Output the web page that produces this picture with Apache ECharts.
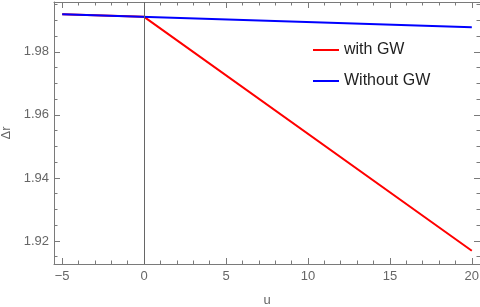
<!DOCTYPE html>
<html>
<head>
<meta charset="utf-8">
<script src="https://cdn.jsdelivr.net/npm/echarts@6/dist/echarts.min.js"></script>
<style>html,body{margin:0;padding:0;background:#fff}#c{width:480px;height:307px}</style>
</head>
<body>
<div id="c"></div>
<script>
// Data
const withGWu = [-5, 0, 20];
const withGW = [1.9919, 1.9911, 1.9169];
const withoutGWu = [-5, 20];
const withoutGW = [1.9919, 1.9878];
const seriesNames = ['with GW', 'Without GW'];
const xMajorTicks = [-5, 0, 5, 10, 15, 20];
const xMinorTicks = [-4, -3, -2, -1, 1, 2, 3, 4, 6, 7, 8, 9, 11, 12, 13, 14, 16, 17, 18, 19];
const yMajorTicks = [1.92, 1.94, 1.96, 1.98];
const yMinorTicks = [1.915, 1.925, 1.93, 1.935, 1.945, 1.95, 1.955, 1.965, 1.97, 1.975, 1.985, 1.99, 1.995];
const xRange = [-5.5, 20.5];
const yRange = [1.9127, 1.9958];

const axisColor = '#7a7a7a';
const labelColor = '#666';
const font = 'Liberation Sans, Arial, sans-serif';
const gridRect = { left: 54, right: 0, top: 2, bottom: 43, outerBoundsMode: 'none', containLabel: false };

function xAx(gridIndex, position, ticks, len, showLabel, showLine, extra) {
  return Object.assign({
    type: 'value', gridIndex, position, min: xRange[0], max: xRange[1],
    axisLine: { show: showLine, onZero: false, lineStyle: { color: axisColor, width: 1 } },
    axisTick: { show: true, inside: true, length: len, customValues: ticks, lineStyle: { color: axisColor } },
    axisLabel: showLabel ? {
      show: true, customValues: ticks, color: labelColor, fontSize: 13, fontFamily: font, margin: 6,
      formatter: v => (v < 0 ? '\u2212' + Math.abs(v) : String(v))
    } : { show: false },
    splitLine: { show: false }
  }, extra || {});
}
function yAx(gridIndex, position, ticks, len, showLabel, showLine, extra) {
  return Object.assign({
    type: 'value', gridIndex, position, min: yRange[0], max: yRange[1],
    axisLine: { show: showLine, onZero: false, lineStyle: { color: axisColor, width: 1 } },
    axisTick: { show: true, inside: true, length: len, customValues: ticks, lineStyle: { color: axisColor } },
    axisLabel: showLabel ? {
      show: true, customValues: ticks, color: labelColor, fontSize: 13, fontFamily: font, margin: 5,
      formatter: v => v.toFixed(2)
    } : { show: false },
    splitLine: { show: false }
  }, extra || {});
}

const chart = echarts.init(document.getElementById('c'), null, { renderer: 'canvas' });
chart.setOption({
  animation: false,
  backgroundColor: '#fff',
  grid: [Object.assign({}, gridRect), Object.assign({}, gridRect)],
  legend: {
    orient: 'vertical', left: 308, top: 37,
    itemWidth: 26, itemHeight: 16, itemGap: 15,
    textStyle: { fontSize: 16, color: '#222', fontFamily: font },
    data: seriesNames.map(n => ({ name: n, icon: 'path://M0,7 L26,7 L26,9 L0,9 Z' }))
  },
  xAxis: [
    xAx(0, 'bottom', xMajorTicks, 6, true, true, {
      name: 'u', nameLocation: 'middle', nameGap: 30,
      nameTextStyle: { color: labelColor, fontSize: 13, fontFamily: font }
    }),
    xAx(0, 'top', xMajorTicks, 6, false, true),
    xAx(1, 'bottom', xMinorTicks, 3.5, false, false),
    xAx(1, 'top', xMinorTicks, 3.5, false, false)
  ],
  yAxis: [
    yAx(0, 'left', yMajorTicks, 6, true, true, {
      name: '\u0394r', nameLocation: 'middle', nameGap: 38,
      nameTextStyle: { color: labelColor, fontSize: 13, fontFamily: font }
    }),
    yAx(0, 'right', yMajorTicks, 6, false, false),
    yAx(1, 'left', yMinorTicks, 3.5, false, false),
    yAx(1, 'right', yMinorTicks, 3.5, false, false)
  ],
  series: [
    {
      name: seriesNames[0], type: 'line', xAxisIndex: 0, yAxisIndex: 0,
      data: withGWu.map((u, i) => [u, withGW[i]]),
      showSymbol: false, symbol: 'none', color: '#ff0000',
      lineStyle: { color: '#ff0000', width: 2 },
      markLine: {
        silent: true, symbol: 'none', label: { show: false },
        lineStyle: { color: '#666', width: 1, type: 'solid' },
        data: [{ xAxis: 0 }]
      },
      z: 2
    },
    {
      name: seriesNames[1], type: 'line', xAxisIndex: 0, yAxisIndex: 0,
      data: withoutGWu.map((u, i) => [u, withoutGW[i]]),
      showSymbol: false, symbol: 'none', color: '#0000ff',
      lineStyle: { color: '#0000ff', width: 2 },
      z: 3
    }
  ]
});
</script>
</body>
</html>
